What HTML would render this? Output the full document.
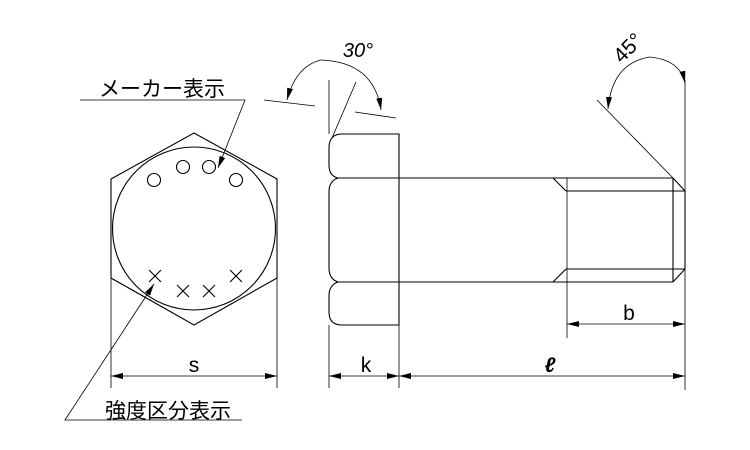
<!DOCTYPE html>
<html><head><meta charset="utf-8"><style>body{margin:0;background:#fff}svg{display:block}</style></head><body>
<svg width="750" height="450" viewBox="0 0 750 450" xmlns="http://www.w3.org/2000/svg">
<defs><marker id="a" viewBox="0 0 12 6" refX="12" refY="3" markerWidth="12" markerHeight="6" orient="auto-start-reverse" markerUnits="userSpaceOnUse"><path d="M0,0L12,3L0,6z" fill="#000"/></marker></defs>
<g fill="none" stroke="#000" stroke-width="1.1">
<polygon points="194,133 277,179 277,278 194,325 111,278 111,179"/>
<circle cx="194" cy="228.5" r="81.5"/>
<circle cx="154" cy="180" r="6.5"/><circle cx="183" cy="167" r="6.5"/><circle cx="209" cy="167" r="6.5"/><circle cx="236" cy="180" r="6.5"/>
<path d="M149,270l12,12M161,270l-12,12M177,285l12,12M189,285l-12,12M203,285l12,12M215,285l-12,12M230,270l12,12M242,270l-12,12"/>
<path d="M80,100H245L218,168" marker-end="url(#a)" stroke-width="0.8"/>
<path d="M242,420H65L154,284" marker-end="url(#a)" stroke-width="0.8"/>
<path d="M111,278V388M277,278V388" stroke-width="0.8"/>
<path d="M111,376H277" marker-start="url(#a)" marker-end="url(#a)" stroke-width="0.8"/>
<path d="M399,134H342Q329,134 329,148V165Q329,176 338,178Q329,181 329,192V268Q329,279 338,282Q329,285 329,296V312Q329,325 342,325H399Z"/>
<path d="M336,178H399M336,282H399"/>
<path d="M399,178H673M399,282H673M553,178L566,191M553,282L566,269M566,191H685M566,269H685M673,178V282M673,178L685,191M673,282L685,269M685,191V269"/>
<path d="M567,178V338" stroke-width="0.8"/>
<path d="M329,80V134M356,82L332,138M264,100L315,106M355,112L396,118" stroke-width="0.8"/>
<path d="M321,60Q296,66 287,100" marker-end="url(#a)" stroke-width="0.8"/>
<path d="M321,60Q374,62 381,110" marker-end="url(#a)" stroke-width="0.8"/>
<path d="M597,100L673,178M685,80V390" stroke-width="0.8"/>
<path d="M650,57Q612,63 608,109" marker-end="url(#a)" stroke-width="0.8"/>
<path d="M650,57Q680,60 685,83" marker-end="url(#a)" stroke-width="0.8"/>
<path d="M329,325V388M399,325V388" stroke-width="0.8"/>
<path d="M329,376H399" marker-start="url(#a)" marker-end="url(#a)" stroke-width="0.8"/>
<path d="M399,376H685" marker-start="url(#a)" marker-end="url(#a)" stroke-width="0.8"/>
<path d="M567,324H685" marker-start="url(#a)" marker-end="url(#a)" stroke-width="0.8"/>
</g>
<g font-family="'Liberation Sans','Noto Sans CJK JP',sans-serif" fill="#000">
<text x="99" y="96" font-size="21">メーカー表示</text>
<text x="105" y="418" font-size="21">強度区分表示</text>
<text x="194" y="372" font-size="21" text-anchor="middle">s</text>
<text x="366" y="372" font-size="21" text-anchor="middle">k</text>
<text x="550" y="372" font-size="21" font-style="italic" font-weight="bold" text-anchor="middle">ℓ</text>
<text x="629" y="320" font-size="21" text-anchor="middle">b</text>
<text x="358" y="57" font-size="20" font-style="italic" text-anchor="middle">30°</text>
<text x="628" y="55" font-size="21" text-anchor="middle" transform="rotate(-45 628 48)">45°</text>
</g>
</svg>
</body></html>
